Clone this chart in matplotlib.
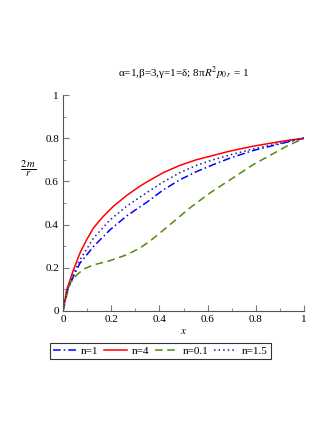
import numpy as np
import matplotlib.pyplot as plt
from matplotlib.ticker import MultipleLocator

plt.rcParams['font.family'] = ['Liberation Serif', 'DejaVu Serif']
plt.rcParams['mathtext.fontset'] = 'stix'

# valores
x_n1 = [0, 0.015, 0.043, 0.07, 0.126, 0.195, 0.264, 0.319, 0.347, 0.415, 0.484, 0.553,
        0.622, 0.691, 0.788, 0.926, 1.0]
y_n1 = [0, 0.085, 0.16, 0.221, 0.298, 0.376, 0.44, 0.482, 0.503, 0.56, 0.607, 0.645,
        0.677, 0.707, 0.743, 0.781, 0.80]

x_n4 = [0, 0.015, 0.043, 0.07, 0.098, 0.126, 0.167, 0.208, 0.264, 0.319, 0.347, 0.415,
        0.484, 0.553, 0.622, 0.691, 0.788, 0.926, 1.0]
y_n4 = [0, 0.097, 0.19, 0.268, 0.33, 0.384, 0.438, 0.484, 0.535, 0.578, 0.597, 0.64,
        0.674, 0.70, 0.72, 0.74, 0.763, 0.789, 0.80]

x_n01 = [0, 0.015, 0.029, 0.057, 0.084, 0.126, 0.195, 0.264, 0.319, 0.367, 0.443, 0.526,
         0.609, 0.691, 0.788, 0.926, 1.0]
y_n01 = [0, 0.07, 0.128, 0.167, 0.193, 0.213, 0.233, 0.26, 0.291, 0.329, 0.399, 0.477,
         0.546, 0.606, 0.677, 0.762, 0.80]

x_n15 = [0, 0.015, 0.043, 0.07, 0.126, 0.195, 0.264, 0.319, 0.347, 0.415, 0.484, 0.553,
         0.622, 0.691, 0.788, 0.926, 1.0]
y_n15 = [0, 0.09, 0.17, 0.237, 0.337, 0.422, 0.485, 0.527, 0.548, 0.597, 0.64, 0.674,
         0.70, 0.722, 0.75, 0.783, 0.80]

fig = plt.figure(figsize=(3.32, 4.3), dpi=100)
ax = fig.add_axes([0.19, 0.277, 0.726, 0.502])

ax.plot(x_n1, y_n1, color='#0000ff', lw=1.1, linestyle=(0, (5, 2, 1, 2)), label='n=1')
ax.plot(x_n4, y_n4, color='#ff0000', lw=1.1, label='n=4')
ax.plot(x_n01, y_n01, color='#4f8a10', lw=1.1, linestyle=(0, (5, 3)), label='n=0.1')
ax.plot(x_n15, y_n15, color='#1a1aa0', lw=1.1, linestyle=(0, (1, 2)), label='n=1.5')

ax.set_xlim(0, 1)
ax.set_ylim(0, 1)
ax.spines['top'].set_visible(False)
ax.spines['right'].set_visible(False)
ax.spines['left'].set_color('#555555')
ax.spines['bottom'].set_color('#555555')
ax.xaxis.set_major_locator(MultipleLocator(0.2))
ax.xaxis.set_minor_locator(MultipleLocator(0.1))
ax.yaxis.set_major_locator(MultipleLocator(0.2))
ax.yaxis.set_minor_locator(MultipleLocator(0.1))
ax.xaxis.set_major_formatter(plt.FuncFormatter(lambda v, p: '%g' % v))
ax.yaxis.set_major_formatter(plt.FuncFormatter(lambda v, p: '%g' % v))
ax.tick_params(which='both', direction='in', labelsize=8, color='#777777', pad=3)
ax.tick_params(which='major', length=4)
ax.tick_params(which='minor', length=2)

ax.set_xlabel('$x$', fontsize=8, labelpad=2)
ax.text(-0.145, 0.66, r'$\frac{2\,m}{r}$', fontsize=11, transform=ax.transAxes,
        ha='center', va='center')
ax.set_title(r'α=1,β=3,γ=1=δ; 8π$R^2 p_{0\,r}$ = 1', fontsize=8, pad=13)

leg = ax.legend(loc='upper center', bbox_to_anchor=(0.404, -0.148), ncol=4, fontsize=8,
                frameon=True, fancybox=False, edgecolor='black', handlelength=2.1,
                columnspacing=0.5, handletextpad=0.4, borderpad=0.3, borderaxespad=0)
leg.get_frame().set_linewidth(0.8)

fig.savefig('out.png', dpi=100)
